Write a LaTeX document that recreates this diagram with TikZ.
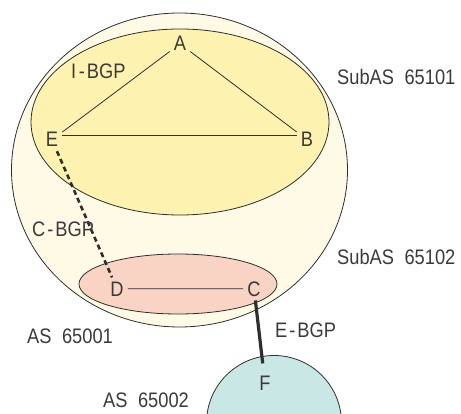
\documentclass[tikz,border=0pt]{standalone}
\usepackage{fontspec}
\setmainfont{Liberation Sans}[FakeStretch=0.87]
\usetikzlibrary{shapes.geometric}
\definecolor{outerfill}{HTML}{FFFAE6}
\definecolor{yellowfill}{HTML}{FDF2B0}
\definecolor{pinkfill}{HTML}{F9D3C3}
\definecolor{tealfill}{HTML}{C9E8E5}
\definecolor{ink}{HTML}{3A3A3A}
\definecolor{edge}{HTML}{2E2E2E}
\tikzset{
  region/.style={ellipse, draw=edge, line width=0.8pt, inner sep=0pt},
  router/.style={text=ink, font=\fontsize{21}{25}\selectfont, inner sep=4pt, anchor=base},
  lbl/.style={text=ink, font=\fontsize{21}{25}\selectfont, inner sep=0pt, anchor=base west},
  thinlink/.style={draw=edge, line width=0.8pt},
  cbgp/.style={draw=edge, line width=2.6pt, dash pattern=on 5pt off 3.5pt},
  ebgp/.style={draw=edge, line width=3.2pt}
}
\begin{document}
\begin{tikzpicture}[x=1pt,y=1pt]
\useasboundingbox (0,0) rectangle (461,413);
\clip (0,0) rectangle (461,413);
% regions
\node[region, fill=outerfill, minimum width=336pt, minimum height=314pt] (as1) at (179.5,243) {};
\node[region, fill=yellowfill, minimum width=298pt, minimum height=186pt] (sub1) at (180,291) {};
\node[region, fill=pinkfill, minimum width=198pt, minimum height=60pt] (sub2) at (178,129) {};
\node[region, circle, fill=tealfill, minimum size=135pt] (as2) at (274,-10) {};
% routers
\node[router] (A) at (180,362) {A};
\node[router] (E) at (52,266) {E};
\node[router] (B) at (307,266) {B};
\node[router] (D) at (117,117) {D};
\node[router] (C) at (254,117) {C};
\node[router] (F) at (265,23) {F};
% links
\draw[thinlink] (A) -- (E);
\draw[thinlink] (A) -- (B);
\draw[thinlink] ([yshift=4pt]E.east) -- ([yshift=4pt]B.west);
\draw[thinlink] (D) -- (C);
\draw[cbgp] (E) -- (D);
\draw[ebgp, shorten >=8pt] (C) -- (F);
% labels
\node[lbl] (libgp) at (71,334) {I\kern2.5pt-\kern2pt BGP};
\node[lbl] (lsub1) at (337,328) {SubAS\hspace{0.5em}65101};
\node[lbl] (lcbgp) at (32,176) {C\kern2pt-\kern2pt BGP};
\node[lbl] (lsub2) at (337,148) {SubAS\hspace{0.5em}65102};
\node[lbl] (las1) at (27,70) {AS\hspace{0.5em}65001};
\node[lbl] (lebgp) at (275,76) {E\kern2pt-\kern2pt BGP};
\node[lbl] (las2) at (103,6) {AS\hspace{0.5em}65002};
\end{tikzpicture}
\end{document}
